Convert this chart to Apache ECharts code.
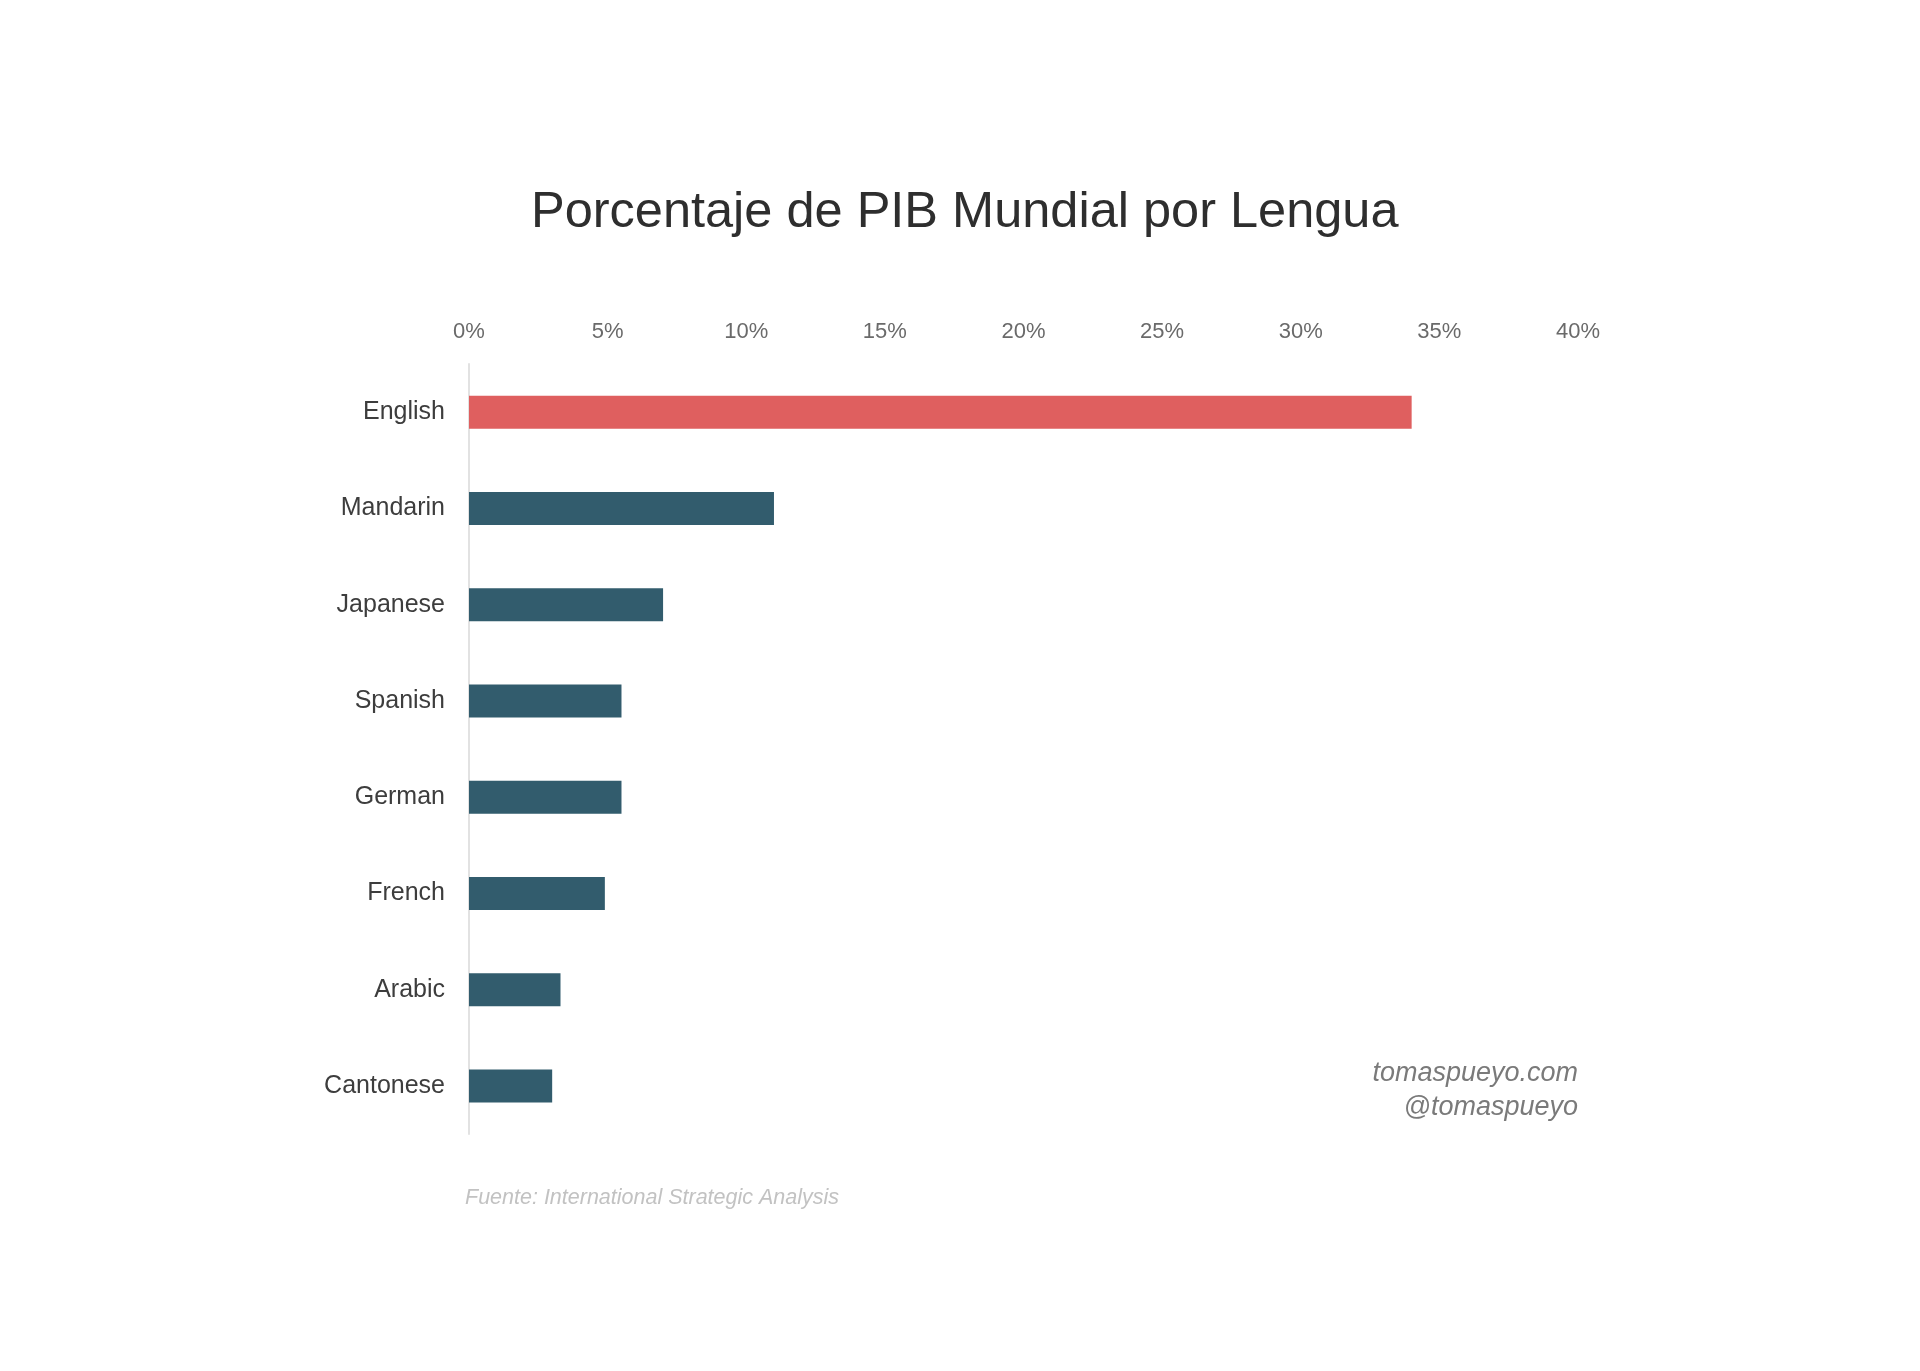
<!DOCTYPE html>
<html>
<head>
<meta charset="utf-8">
<script src="https://cdn.jsdelivr.net/npm/echarts@6/dist/echarts.min.js"></script>
<style>
html,body{margin:0;padding:0;background:#fff;}
#chart{width:1920px;height:1371px;}
</style>
</head>
<body>
<div id="chart"></div>
<script>
const categories = ['English','Mandarin','Japanese','Spanish','German','French','Arabic','Cantonese'];
const values = [34.0, 11.0, 7.0, 5.5, 5.5, 4.9, 3.3, 3.0];
const highlightColor = '#df5f5f';
const baseColor = '#325c6d';
const titleText = 'Porcentaje de PIB Mundial por Lengua';
const sourceText = 'Fuente: International Strategic Analysis';
const creditLines = ['tomaspueyo.com', '@tomaspueyo'];

const chart = echarts.init(document.getElementById('chart'));
const font = '"Liberation Sans", Arial, Helvetica, sans-serif';
chart.setOption({
  backgroundColor: '#ffffff',
  animation: false,
  title: {
    text: titleText,
    left: 526,
    top: 183,
    textStyle: {fontFamily: font, fontSize: 50.5, fontWeight: 'normal', color: '#2e2e2e'}
  },
  grid: {left: 469, top: 364, width: 1109, height: 770, containLabel: false},
  xAxis: {
    type: 'value',
    position: 'top',
    min: 0, max: 40, interval: 5,
    axisLine: {show: false},
    axisTick: {show: false},
    splitLine: {show: false},
    axisLabel: {formatter: '{value}%', fontFamily: font, fontSize: 22, color: '#6a6a6a', margin: 21}
  },
  yAxis: {
    type: 'category',
    data: categories,
    inverse: true,
    axisLine: {show: true, lineStyle: {color: '#e2e2e2', width: 2}},
    axisTick: {show: false},
    axisLabel: {fontFamily: font, fontSize: 25, color: '#3d3d3d', margin: 24}
  },
  series: [{
    type: 'bar',
    barWidth: 33,
    data: values.map((v, i) => ({value: v, itemStyle: {color: i === 0 ? highlightColor : baseColor}}))
  }],
  graphic: [
    {type: 'text', right: 342, top: 1056, style: {text: creditLines.join('\n'), textAlign: 'right', font: 'italic 27px ' + font, fill: '#7a7a7a', lineHeight: 34}},
    {type: 'text', left: 465, top: 1187, style: {text: sourceText, font: 'italic 21.5px ' + font, fill: '#c2c2c2'}}
  ]
});
</script>
</body>
</html>
